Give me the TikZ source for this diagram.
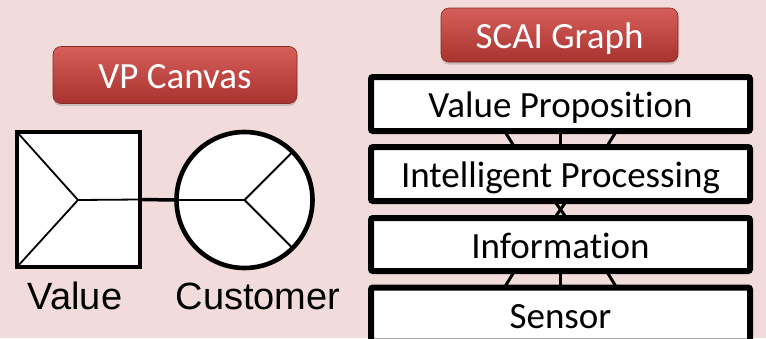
\documentclass[tikz,border=0pt]{standalone}
\usepackage{fontspec}
\setmainfont[Ligatures=NoCommon]{Carlito}
\newfontfamily\arialfont{Liberation Sans}
\usetikzlibrary{shadows}
\definecolor{bgpink}{HTML}{F2DCDB}
\definecolor{btntop}{HTML}{D65F5B}
\definecolor{btnbot}{HTML}{A8322E}
\begin{document}
\begin{tikzpicture}[x=1pt,y=-1pt,
  button/.style={rectangle, rounded corners=8pt, draw=btnbot!80!black, line width=0.6pt,
    top color=btntop, bottom color=btnbot, text=white,
    font=\fontsize{37}{40}\selectfont, text height=30pt, text depth=3pt, inner sep=0pt,
    drop shadow={shadow xshift=0pt, shadow yshift=-2.5pt, opacity=0.35}},
  layerbox/.style={rectangle, rounded corners=2pt, draw=black, line width=6pt, fill=white,
    minimum width=379pt, inner sep=0pt, outer sep=0pt,
    font=\fontsize{37}{40}\selectfont, text height=30pt, text depth=3pt},
  link/.style={draw=black, line width=3pt},
  thin/.style={draw=black, line width=1.8pt},
  caption/.style={font=\arialfont\fontsize{38}{42}\selectfont, anchor=base, inner sep=0pt}]
  % page and background
  \fill[bgpink] (0,0) rectangle (766,338);
  \useasboundingbox (0,0) rectangle (766,338);

  % section titles
  \node[button, minimum width=244pt, minimum height=57pt] (vpt) at (175,75) {VP Canvas};
  \node[button, minimum width=237pt, minimum height=54pt] (scait) at (559.5,35) {SCAI Graph};

  % value proposition canvas: square and circle
  \node[rectangle, draw=black, line width=4.5pt, fill=white, minimum width=123pt,
        minimum height=135pt, inner sep=0pt, outer sep=0pt] (sq) at (78.5,199.5) {};
  \node[circle, draw=black, line width=4.6pt, fill=white, minimum size=136pt,
        inner sep=0pt, outer sep=0pt] (cu) at (244.5,200) {};
  \coordinate (sqv) at (78,200);
  \draw[thin] (sq.north west) -- (sqv) -- (sq.south west);
  \draw[thin] (sqv) -- (sq.east);
  \draw[thin] (cu.west) -- (cu.center);
  \draw[thin] (cu.45) -- (cu.center) -- (cu.-45);
  \draw[link, line width=3.5pt] (sq.east) -- (cu.west);

  \node[caption] (vlab) at (75,309) {Value};
  \node[caption] (clab) at (258,309) {Customer};

  % SCAI layers
  \node[layerbox, minimum height=54pt] (vp) at (560.5,104) {Value Proposition};
  \node[layerbox, minimum height=54pt] (ip) at (560.5,174) {Intelligent Processing};
  \node[layerbox, minimum height=53pt] (info) at (560.5,244.5) {Information};
  \node[layerbox, minimum height=54pt] (sens) at (560.5,314.5) {Sensor};

  % links between layers
  \draw[link] ([xshift=-56pt]vp.south) -- ([xshift=-46pt]ip.north);
  \draw[link] (vp.south) -- (ip.north);
  \draw[link] ([xshift=56pt]vp.south) -- ([xshift=46pt]ip.north);

  \draw[link] ([xshift=-6pt]ip.south) -- ([xshift=6pt]info.north);
  \draw[link] ([xshift=6pt]ip.south) -- ([xshift=-6pt]info.north);

  \draw[link] ([xshift=-46pt]info.south) -- ([xshift=-56pt]sens.north);
  \draw[link] (info.south) -- (sens.north);
  \draw[link] ([xshift=46pt]info.south) -- ([xshift=56pt]sens.north);
\end{tikzpicture}
\end{document}
